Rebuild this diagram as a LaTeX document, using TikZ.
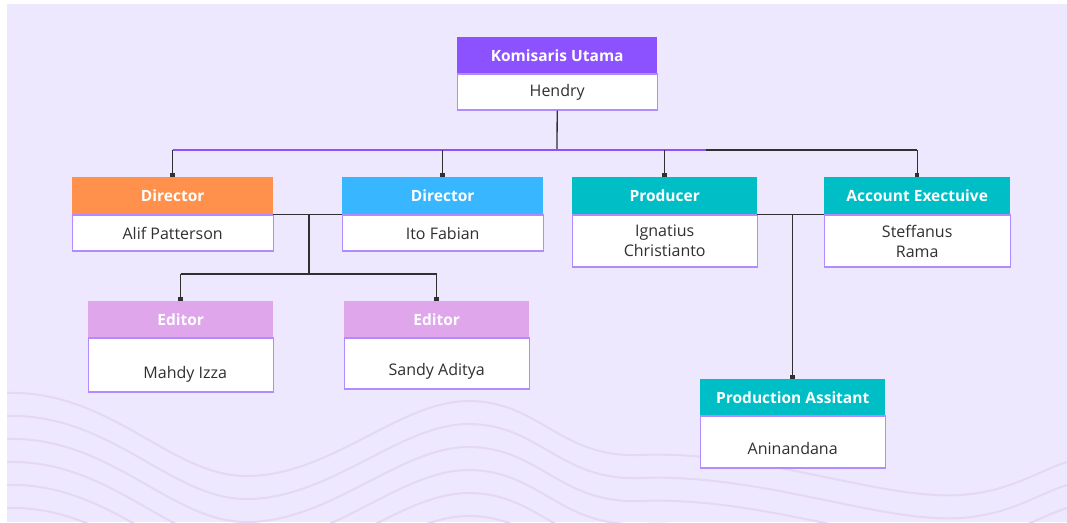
\documentclass[tikz,border=0pt]{standalone}
\usepackage{fontspec}
\setmainfont{Open Sans}
\usepackage{xcolor}
\usepackage{tikz}
\usetikzlibrary{positioning,calc,arrows.meta}
\definecolor{bgLav}{HTML}{EEE8FE}
\definecolor{waveLav}{HTML}{E4D8F4}
\definecolor{boxLine}{HTML}{B28BFF}
\definecolor{kPurple}{HTML}{8C52FF}
\definecolor{kOrange}{HTML}{FF914D}
\definecolor{kBlue}{HTML}{38B6FF}
\definecolor{kTeal}{HTML}{00BEC6}
\definecolor{kPink}{HTML}{DFA6EC}
\definecolor{inkGray}{HTML}{303030}

\begin{document}
\begin{tikzpicture}[x=1pt,y=-1pt,
	head/.style={anchor=north west,inner sep=0pt,text=white,font=\bfseries\fontsize{15.5}{18}\selectfont},
	body/.style={below=0pt of #1,fill=white,draw=boxLine,line width=1.2pt,inner sep=0pt,align=center,text=inkGray,font=\fontsize{16}{20}\selectfont},
	link/.style={draw=inkGray,line width=1.3pt},
	drop/.style={link,-{Square[length=4pt,width=4.5pt]}}]
	\useasboundingbox (0,0) rectangle (1067,522);
	\fill[bgLav] (7,4) rectangle (1067,522);
	% wavy lines at the bottom
	\begin{scope}
		\clip (7,4) rectangle (1067,522);
		\foreach \d in {0,23,...,184}
			\draw[waveLav,line width=2pt] (7,393+\d) .. controls (110,390+\d) and (170,475+\d) .. (245,476+\d)
				.. controls (330,477+\d) and (400,400+\d) .. (470,401+\d)
				.. controls (540,402+\d) and (560,458+\d) .. (640,455+\d)
				.. controls (760,450+\d) and (880,500+\d) .. (960,495+\d)
				.. controls (1010,492+\d) and (1040,470+\d) .. (1067,462+\d);
	\end{scope}

	\node[head,fill=kPurple,minimum width=200pt,minimum height=36pt] (komh) at (457,37) {Komisaris Utama};
	\node[body=komh,minimum width=200pt,minimum height=36pt] (komb) {Hendry};

	\node[head,fill=kOrange,minimum width=201pt,minimum height=37pt] (dirah) at (72,177) {Director};
	\node[body=dirah,minimum width=201pt,minimum height=36pt] (dirab) {Alif Patterson};
	\node[head,fill=kBlue,minimum width=201pt,minimum height=37pt] (dirbh) at (342,177) {Director};
	\node[body=dirbh,minimum width=201pt,minimum height=36pt] (dirbb) {Ito Fabian};
	\node[head,fill=kTeal,minimum width=185pt,minimum height=37pt] (prodh) at (572,177) {Producer};
	\node[body=prodh,minimum width=185pt,minimum height=52pt] (prodb) {Ignatius\\Christianto};
	\node[head,fill=kTeal,minimum width=186pt,minimum height=37pt] (acch) at (824,177) {Account Exectuive};
	\node[body=acch,minimum width=186pt,minimum height=52pt] (accb) {Steffanus\\Rama};

	\node[head,fill=kPink,minimum width=185pt,minimum height=36pt] (edah) at (88,301) {Editor};
	\node[body=edah,minimum width=185pt,minimum height=54pt,text height=26pt,text depth=0pt] (edab) {\hspace*{9pt}Mahdy Izza};
	\node[head,fill=kPink,minimum width=185pt,minimum height=36pt] (edbh) at (344,301) {Editor};
	\node[body=edbh,minimum width=185pt,minimum height=51pt,text height=23pt,text depth=0pt] (edbb) {Sandy Aditya};
	\node[head,fill=kTeal,minimum width=185pt,minimum height=36pt] (pash) at (700,379) {Production Assitant};
	\node[body=pash,minimum width=185pt,minimum height=52pt,text height=24pt,text depth=0pt] (pasb) {Aninandana};

	% top level
	\coordinate (bus) at (557,150);
	\coordinate (busend) at (706,150);
	\draw[link] (komb.south) -- (bus);
	\draw[link] (dirah.north |- bus) -- (acch.north |- bus);
	\draw[draw=kPurple,line width=1.6pt] (dirah.north |- bus) -- (busend);
	\foreach \n in {dirah,dirbh,prodh,acch}
		\draw[drop] (\n.north |- bus) -- (\n.north);

	% editors
	\coordinate (edsplit) at (309,214);
	\coordinate (edbus) at (309,274);
	\draw[link] (dirah.south east) -- (dirbh.south west);
	\draw[link] (edsplit) -- (edbus);
	\draw[link] (edah.north |- edbus) -- (edbh.north |- edbus);
	\foreach \n in {edah,edbh}
		\draw[drop] (\n.north |- edbus) -- (\n.north);

	% production assistant
	\coordinate (pasplit) at (792,214);
	\draw[link] (prodh.south east) -- (acch.south west);
	\draw[drop] (pash.north |- pasplit) -- (pash.north);
\end{tikzpicture}
\end{document}
